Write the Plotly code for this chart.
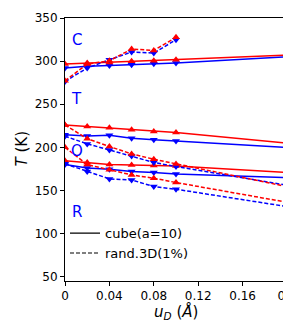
import plotly.graph_objects as go

# ---------------- data ----------------
u_cube = [0, 0.02, 0.04, 0.06, 0.08, 0.1, 0.2]
cube_CT_red = [296.6, 297.7, 298.5, 299.7, 300.4, 301.6, 307.0]
cube_CT_blue = [291.9, 293.9, 295.0, 295.8, 297.0, 297.7, 305.0]
cube_TO_red = [226.0, 224.2, 222.6, 220.3, 218.4, 217.2, 204.8]
cube_TO_blue = [214.5, 213.3, 214.1, 210.6, 208.7, 207.5, 199.8]
cube_OR_red = [184.5, 182.5, 180.0, 179.6, 178.9, 178.5, 170.8]
cube_OR_blue = [180.0, 176.0, 174.5, 172.0, 170.8, 169.2, 165.0]

u_rand_CT = [0, 0.02, 0.04, 0.06, 0.08, 0.1]
rand_CT_red = [277.2, 296.6, 300.4, 314.0, 312.4, 327.6]
rand_CT_blue = [276.5, 292.0, 301.6, 310.5, 309.3, 324.8]
u_rand = [0, 0.02, 0.04, 0.06, 0.08, 0.1, 0.2]
rand_TO_red = [226.0, 210.0, 201.0, 192.4, 186.2, 180.8, 154.5]
rand_TO_blue = [213.0, 204.0, 197.0, 190.0, 182.4, 177.8, 156.0]
rand_OR_red = [200.0, 180.0, 174.0, 168.0, 164.2, 159.2, 136.3]
rand_OR_blue = [181.0, 172.0, 163.4, 162.2, 154.5, 151.4, 131.3]

phase_labels = ["C", "T", "O", "R"]
phase_label_T = [324.5, 256.0, 195.8, 125.0]
phase_label_u = [0.0104, 0.0104, 0.0110, 0.0104]

legend_names = ["cube(a=10)", "rand.3D(1%)"]
x_ticks = [0, 0.04, 0.08, 0.12, 0.16, 0.2]
x_tick_text = ["0", "0.04", "0.08", "0.12", "0.16", "0.2"]
y_ticks = [50, 100, 150, 200, 250, 300, 350]

RED = "#ff0000"
BLUE = "#0000ff"
FONT = "DejaVu Sans"
DASH = "4px,2px"

fig = go.Figure()

def add(x, y, color, dash, up):
    fig.add_trace(go.Scatter(
        x=x, y=y, mode="lines+markers", showlegend=False,
        line=dict(color=color, width=1.5, dash=dash),
        marker=dict(symbol="triangle-up" if up else "triangle-down", size=7,
                    color=color, line=dict(width=0)),
    ))

for yv, c, up in [(cube_CT_blue, BLUE, False), (cube_CT_red, RED, True),
                  (cube_TO_blue, BLUE, False), (cube_TO_red, RED, True),
                  (cube_OR_blue, BLUE, False), (cube_OR_red, RED, True)]:
    add(u_cube, yv, c, "solid", up)

add(u_rand_CT, rand_CT_blue, BLUE, DASH, False)
add(u_rand_CT, rand_CT_red, RED, DASH, True)
for yv, c, up in [(rand_TO_blue, BLUE, False), (rand_TO_red, RED, True),
                  (rand_OR_blue, BLUE, False), (rand_OR_red, RED, True)]:
    add(u_rand, yv, c, DASH, up)

# legend entries
for name, dash in zip(legend_names, ["solid", DASH]):
    fig.add_trace(go.Scatter(x=[None], y=[None], mode="lines", name=name,
                             line=dict(color="black", width=1.2, dash=dash)))

for lab, xu, yt in zip(phase_labels, phase_label_u, phase_label_T):
    fig.add_annotation(x=xu, y=yt, text=lab, showarrow=False,
                       xanchor="center", yanchor="middle",
                       font=dict(family=FONT, size=15, color=BLUE))

# axis titles as annotations for precise placement
fig.add_annotation(x=0.5, y=0, xref="paper", yref="paper", yshift=-31,
                   text="<i>u</i><sub><i>D</i></sub> (<i>Å</i>)", showarrow=False,
                   xanchor="center", yanchor="middle",
                   font=dict(family=FONT, size=15, color="black"))
fig.add_annotation(x=0, y=0.5, xref="paper", yref="paper", xshift=-44,
                   text="<i>T</i> (K)", showarrow=False, textangle=-90,
                   xanchor="center", yanchor="middle",
                   font=dict(family=FONT, size=15, color="black"))

axis_common = dict(showline=True, linecolor="black", linewidth=1, mirror=True,
                   ticks="outside", ticklen=4, tickwidth=1, tickcolor="black",
                   showgrid=False, zeroline=False, automargin=False,
                   tickfont=dict(family=FONT, size=12, color="black"))

fig.update_xaxes(range=[0, 0.2], tickvals=x_ticks, ticktext=x_tick_text,
                 **axis_common)
fig.update_yaxes(range=[45, 350], tickvals=y_ticks, **axis_common)

fig.update_layout(
    width=291, height=322,
    margin=dict(l=57, r=12, t=10, b=49, autoexpand=False),
    plot_bgcolor="white", paper_bgcolor="white",
    font=dict(family=FONT, color="black"),
    legend=dict(x=0.0, y=0.239, xanchor="left", yanchor="top",
                bgcolor="rgba(0,0,0,0)", font=dict(family=FONT, size=13),
                tracegroupgap=0),
)

fig.write_html("out.html")
